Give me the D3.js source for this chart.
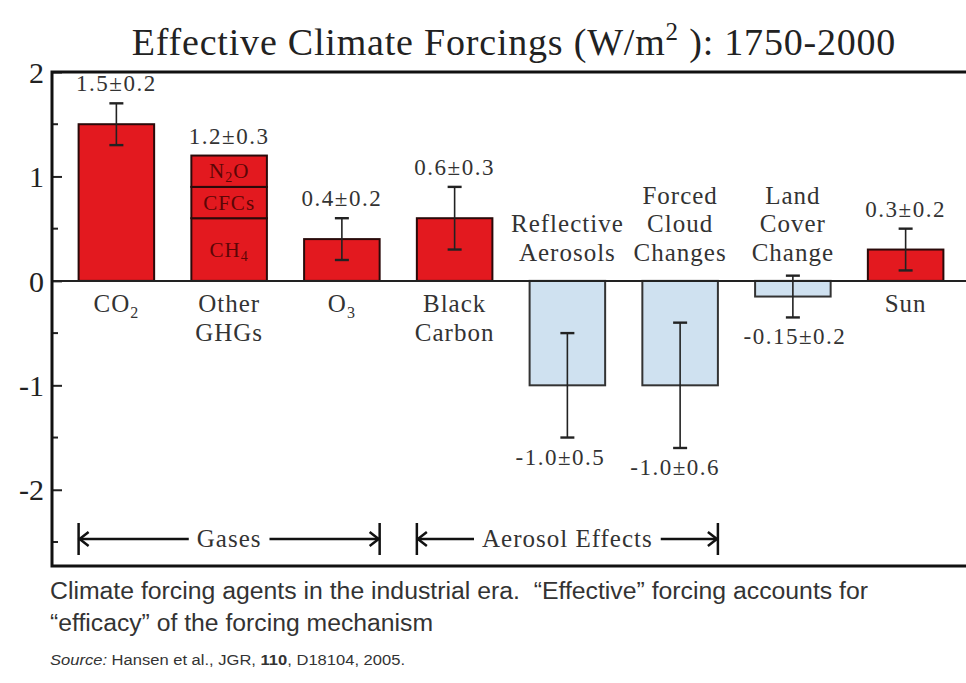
<!DOCTYPE html>
<html><head><meta charset="utf-8">
<script src="https://cdn.jsdelivr.net/npm/d3@7"></script>
<style>body{margin:0;background:#fff}svg{display:block}</style>
</head><body>
<svg id="c" width="966" height="683"></svg>
<script>
// ---- data ----
const categories = ["CO2", "Other GHGs", "O3", "Black Carbon", "Reflective Aerosols", "Forced Cloud Changes", "Land Cover Change", "Sun"];
const values = [1.5, 1.2, 0.4, 0.6, -1.0, -1.0, -0.15, 0.3];
const uncertainties = [0.2, 0.3, 0.2, 0.3, 0.5, 0.6, 0.2, 0.2];
const drawErrorBar = [true, false, true, true, true, true, true, true];
const valueLabels = ["1.5±0.2", "1.2±0.3", "0.4±0.2", "0.6±0.3", "-1.0±0.5", "-1.0±0.6", "-0.15±0.2", "0.3±0.2"];
const ghgParts = ["CH4", "CFCs", "N2O"];
const ghgValues = [0.6, 0.3, 0.3];
const yTicks = [-2, -1, 0, 1, 2];
const yMinorTicks = [-2.5, -1.5, -0.5, 0.5, 1.5];
const groups = ["Gases", "Aerosol Effects"];
const groupStart = ["CO2", "Black Carbon"];
const groupEnd = ["O3", "Forced Cloud Changes"];

// ---- layout ----
const svg = d3.select("#c");
const L = 52, T = 72, R = 966, B = 566;
const serif = "'Liberation Serif','Times New Roman',serif";
const sans = "'Liberation Sans',Arial,sans-serif";
const y = d3.scaleLinear().domain([-2.73, 2]).range([B, T]);
const x = d3.scaleBand().domain(categories).range([60, 962]).paddingInner(0.33).paddingOuter(0.165);
const bw = x.bandwidth();
const cx = c => x(c) + bw / 2;

// title
const title = svg.append("text").attr("x", 514).attr("y", 55).attr("text-anchor", "middle")
  .attr("font-family", serif).attr("font-size", 38).attr("fill", "#222").attr("letter-spacing", 0.8);
title.append("tspan").text("Effective Climate Forcings (W/m");
title.append("tspan").attr("font-size", 25).attr("dy", -15).text("2");
title.append("tspan").attr("dy", 15).text(" ): 1750-2000");

// axis
const axis = d3.axisLeft(y).tickValues(yTicks).tickSize(-10).tickPadding(8).tickFormat(d => String(d));
const ag = svg.append("g").attr("transform", `translate(${L},0)`).call(axis);
ag.select(".domain").remove();
ag.selectAll(".tick line").attr("stroke", "#222").attr("stroke-width", 2);
ag.selectAll(".tick text").attr("font-family", serif).attr("font-size", 30).attr("fill", "#222").attr("dy", "0.34em");
svg.append("g").selectAll("line").data(yMinorTicks).join("line")
  .attr("x1", L).attr("x2", L + 6).attr("y1", d => y(d)).attr("y2", d => y(d))
  .attr("stroke", "#222").attr("stroke-width", 2);

// bars
const barsG = svg.append("g");
categories.forEach((c, i) => {
  const v = values[i];
  if (c === "Other GHGs") {
    let acc = 0;
    ghgParts.forEach((p, j) => {
      const v0 = acc, v1 = acc + ghgValues[j];
      barsG.append("rect").attr("x", x(c)).attr("width", bw)
        .attr("y", y(v1)).attr("height", y(v0) - y(v1))
        .attr("fill", "#e3191f").attr("stroke", "#2a0a0a").attr("stroke-width", 2);
      acc = v1;
    });
  } else {
    barsG.append("rect").attr("x", x(c)).attr("width", bw)
      .attr("y", y(Math.max(0, v))).attr("height", Math.abs(y(v) - y(0)))
      .attr("fill", v >= 0 ? "#e3191f" : "#cfe1f0")
      .attr("stroke", v >= 0 ? "#2a0a0a" : "#333").attr("stroke-width", 2);
  }
});

// GHG component labels
{
  let acc = 0;
  ghgParts.forEach((p, j) => {
    const mid = acc + ghgValues[j] / 2;
    acc += ghgValues[j];
    const t = barsG.append("text").attr("x", cx("Other GHGs")).attr("y", y(mid) + 7)
      .attr("text-anchor", "middle").attr("font-family", serif).attr("font-size", 21)
      .attr("letter-spacing", 1).attr("fill", "#5c0606");
    if (p === "CH4") { t.append("tspan").text("CH"); t.append("tspan").attr("font-size", 14).attr("dy", 4).text("4"); }
    else if (p === "N2O") { t.append("tspan").text("N"); t.append("tspan").attr("font-size", 14).attr("dy", 4).text("2"); t.append("tspan").attr("dy", -4).text("O"); }
    else t.text(p);
  });
}

// zero line
svg.append("line").attr("x1", L).attr("x2", R).attr("y1", y(0)).attr("y2", y(0)).attr("stroke", "#222").attr("stroke-width", 2);

// error bars
const eg = svg.append("g").attr("stroke", "#222").attr("stroke-width", 1.6);
categories.forEach((c, i) => {
  if (!drawErrorBar[i]) return;
  const lo = values[i] - uncertainties[i], hi = values[i] + uncertainties[i];
  const xc = cx(c);
  eg.append("line").attr("x1", xc).attr("x2", xc).attr("y1", y(hi)).attr("y2", y(lo));
  eg.append("line").attr("x1", xc - 7).attr("x2", xc + 7).attr("y1", y(hi)).attr("y2", y(hi)).attr("stroke-width", 2.4);
  eg.append("line").attr("x1", xc - 7).attr("x2", xc + 7).attr("y1", y(lo)).attr("y2", y(lo)).attr("stroke-width", 2.4);
});

// value labels
const labelPos = {
  "CO2": ["top", 0], "Other GHGs": ["top", 0], "O3": ["top", 0], "Black Carbon": ["top", 0],
  "Reflective Aerosols": ["bottom", -7], "Forced Cloud Changes": ["bottom", -5], "Land Cover Change": ["bottom", 2], "Sun": ["top", 0]
};
categories.forEach((c, i) => {
  const ext = drawErrorBar[i] ? uncertainties[i] : 0;
  const [where, dx] = labelPos[c];
  const yy = where === "top" ? y(values[i] + ext) - 12 : y(values[i] - ext) + 27;
  svg.append("text").attr("x", cx(c) + dx).attr("y", yy).attr("text-anchor", "middle")
    .attr("font-family", serif).attr("font-size", 23).attr("letter-spacing", 1.5).attr("fill", "#333").text(valueLabels[i]);
});

// category labels
const catLines = {
  "CO2": [["CO", "2"]], "Other GHGs": [["Other"], ["GHGs"]], "O3": [["O", "3"]], "Black Carbon": [["Black"], ["Carbon"]],
  "Reflective Aerosols": [["Reflective"], ["Aerosols"]], "Forced Cloud Changes": [["Forced"], ["Cloud"], ["Changes"]],
  "Land Cover Change": [["Land"], ["Cover"], ["Change"]], "Sun": [["Sun"]]
};
categories.forEach((c, i) => {
  const lines = catLines[c];
  const above = c === "Reflective Aerosols" || c === "Forced Cloud Changes" || c === "Land Cover Change";
  lines.forEach((ln, k) => {
    const yy = above ? y(0) - 20 - (lines.length - 1 - k) * 28.5 : y(0) + 31 + k * 29;
    const t = svg.append("text").attr("x", cx(c)).attr("y", yy).attr("text-anchor", "middle")
      .attr("font-family", serif).attr("font-size", 25).attr("letter-spacing", 1).attr("fill", "#333");
    t.append("tspan").text(ln[0]);
    if (ln[1]) t.append("tspan").attr("font-size", 16).attr("dy", 6).text(ln[1]);
  });
});

// group brackets
const by = 539;
groups.forEach((g, i) => {
  const x0 = x(groupStart[i]), x1 = x(groupEnd[i]) + bw;
  const gg = svg.append("g").attr("stroke", "#111").attr("stroke-width", 2.5).attr("fill", "none");
  const t = svg.append("text").attr("x", (x0 + x1) / 2).attr("y", by + 8).attr("text-anchor", "middle")
    .attr("font-family", serif).attr("font-size", 25).attr("letter-spacing", 1).attr("fill", "#333").text(g);
  const tw = t.node().getComputedTextLength();
  const mx = (x0 + x1) / 2;
  gg.append("line").attr("x1", x0).attr("x2", x0).attr("y1", by - 16).attr("y2", by + 16);
  gg.append("line").attr("x1", x1).attr("x2", x1).attr("y1", by - 16).attr("y2", by + 16);
  gg.append("line").attr("x1", x0).attr("x2", mx - tw / 2 - 8).attr("y1", by).attr("y2", by);
  gg.append("line").attr("x1", mx + tw / 2 + 8).attr("x2", x1).attr("y1", by).attr("y2", by);
  gg.append("path").attr("d", `M${x0 + 10},${by - 7} L${x0 + 1},${by} L${x0 + 10},${by + 7}`);
  gg.append("path").attr("d", `M${x1 - 10},${by - 7} L${x1 - 1},${by} L${x1 - 10},${by + 7}`);
});

// frame
svg.append("path").attr("d", `M${R},${T} H${L} V${B} H${R}`).attr("fill", "none").attr("stroke", "#111").attr("stroke-width", 3);

// caption
svg.append("text").attr("x", 50).attr("y", 599).attr("font-family", sans).attr("font-size", 23).attr("fill", "#333")
  .attr("textLength", 818).attr("lengthAdjust", "spacingAndGlyphs").attr("xml:space", "preserve")
  .text("Climate forcing agents in the industrial era.  \u201CEffective\u201D forcing accounts for");
svg.append("text").attr("x", 50).attr("y", 631).attr("font-family", sans).attr("font-size", 23).attr("fill", "#333")
  .attr("textLength", 383).attr("lengthAdjust", "spacingAndGlyphs")
  .text("\u201Cefficacy\u201D of the forcing mechanism");
const src = svg.append("text").attr("x", 50).attr("y", 665).attr("font-family", sans).attr("font-size", 14).attr("fill", "#333")
  .attr("textLength", 355).attr("lengthAdjust", "spacingAndGlyphs");
src.append("tspan").attr("font-style", "italic").text("Source:");
src.append("tspan").text(" Hansen et al., JGR, ");
src.append("tspan").attr("font-weight", "bold").text("110");
src.append("tspan").text(", D18104, 2005.");
</script>
</body></html>
